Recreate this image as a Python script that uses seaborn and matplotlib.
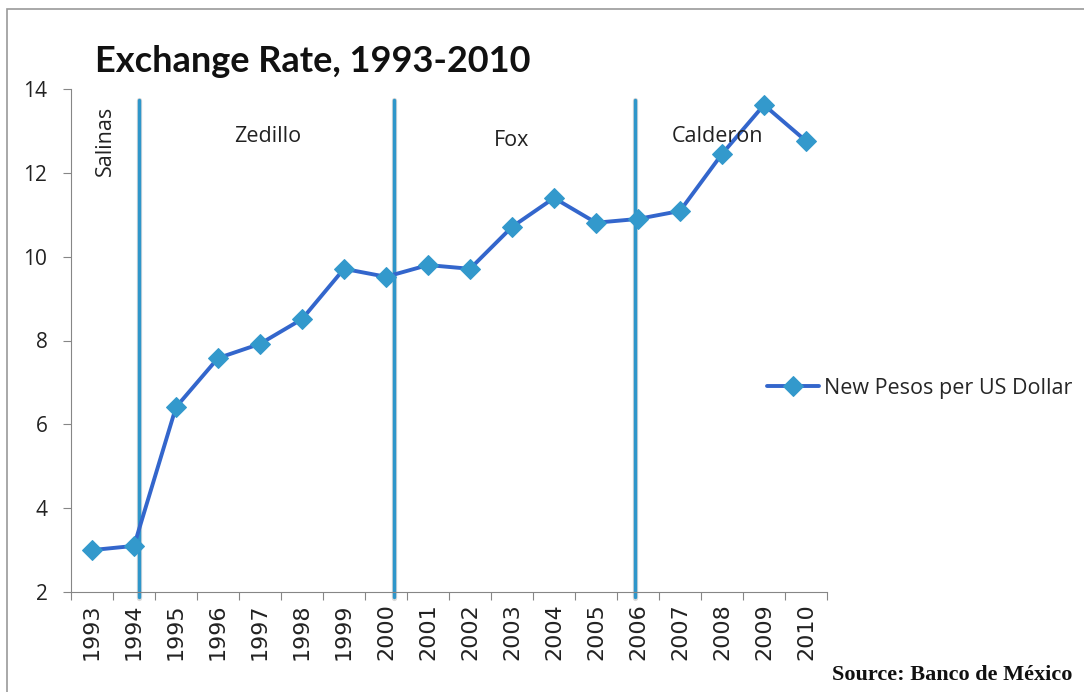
import matplotlib
matplotlib.use("Agg")
import matplotlib.pyplot as plt
import seaborn as sns
import pandas as pd
from matplotlib.patches import Rectangle

years = list(range(1993, 2011))
rate = [3.0, 3.1, 6.41, 7.58, 7.92, 8.51, 9.71, 9.52, 9.8, 9.71,
        10.71, 11.4, 10.81, 10.9, 11.09, 12.45, 13.62, 12.76]
series_name = "New Pesos per US Dollar"

# presidential terms: where the dividing lines go, and the labels
term_breaks = [1994.13, 2000.2, 2005.93]
term_names = ["Salinas", "Zedillo", "Fox", "Calderon"]
term_label_x = [1993.31, 1997.19, 2003.0, 2007.9]
term_label_y = [12.76, 12.86, 12.76, 12.86]

df = pd.DataFrame({"year": years, series_name: rate})

sns.set_style("white")
plt.rcParams["font.family"] = ["Open Sans", "DejaVu Sans"]

fig = plt.figure(figsize=(10.84, 6.92), dpi=100)
ax = fig.add_axes([71 / 1084, 1 - 592 / 692, 756 / 1084, 503 / 692])

sns.lineplot(data=df, x="year", y=series_name, ax=ax, color="#3366CC",
             linewidth=2.8, marker="D", markersize=10.5,
             markerfacecolor="#3399CC", markeredgecolor="#3399CC",
             label=series_name)

for xb in term_breaks:
    ax.axvline(xb, ymin=-0.012, ymax=0.978, color="#999999", lw=3.8,
               alpha=0.35, clip_on=False, zorder=1)
    ax.axvline(xb, ymin=-0.01, ymax=0.978, color="#2E96CA", lw=2.5,
               clip_on=False, zorder=1.5)

for name, tx, ty in zip(term_names, term_label_x, term_label_y):
    ax.text(tx, ty, name, ha="center", va="center", fontsize=15.5,
            color="#222222", rotation=90 if name == "Salinas" else 0)

ax.set_xlim(1992.5, 2010.5)
ax.set_ylim(2, 14)
ax.set_yticks([2, 4, 6, 8, 10, 12, 14])
ax.set_xticks(years)
ax.set_xticklabels([str(y) for y in years], rotation=90, fontsize=16,
                   family="DejaVu Sans")
ax.set_xticks([y - 0.5 for y in years] + [2010.5], minor=True)
ax.tick_params(axis="x", which="major", length=0, pad=8, colors="#222222")
ax.tick_params(axis="x", which="minor", length=6, width=0.8,
               color="#868686", direction="out", bottom=True)
ax.tick_params(axis="y", length=6, width=0.8, color="#868686",
               direction="out", left=True, pad=11, labelsize=15,
               labelcolor="#222222")
ax.set_xlabel("")
ax.set_ylabel("")
for side in ["top", "right"]:
    ax.spines[side].set_visible(False)
for side in ["left", "bottom"]:
    ax.spines[side].set_color("#868686")
    ax.spines[side].set_linewidth(0.8)

ax.legend(loc="center left", bbox_to_anchor=(0.895, 0.405), frameon=False,
          fontsize=15.5, handlelength=2.4, handletextpad=0.25)

fig.text(95 / 1084, 1 - 62 / 692, "Exchange Rate, 1993-2010", ha="left",
         va="center", fontsize=26, fontweight="bold", color="#111111",
         family=["Lato", "DejaVu Sans"])
fig.text(1072 / 1084, 1 - 675 / 692, "Source: Banco de México", ha="right",
         va="center", fontsize=16, fontweight="bold", color="#111111",
         family=["Liberation Serif", "DejaVu Serif"])

fig.patches.append(Rectangle((7 / 1084, -0.1), 1.2, 1 - 9 / 692 + 0.1,
                             transform=fig.transFigure, fill=False,
                             edgecolor="#9A9A9A", lw=1.2))

fig.savefig("out.png", dpi=100)
